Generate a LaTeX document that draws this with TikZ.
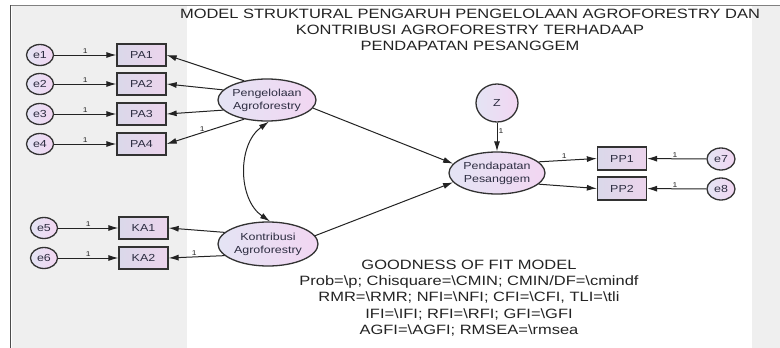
\documentclass[tikz,border=0pt]{standalone}
\usepackage{fontspec}
\setmainfont{Liberation Sans}[FakeStretch=1.22]
\usetikzlibrary{shapes.geometric,arrows.meta}
\definecolor{bgG}{RGB}{239,239,239}
\definecolor{bord}{RGB}{50,50,50}
\definecolor{lineC}{RGB}{35,35,35}
\definecolor{ellL}{RGB}{228,228,244}
\definecolor{ellR}{RGB}{242,214,242}
\definecolor{boxL}{RGB}{218,216,234}
\definecolor{boxR}{RGB}{236,212,236}
\definecolor{txt}{RGB}{45,45,65}
\definecolor{ttl}{RGB}{35,35,35}
\newcommand\nodefont{\fontsize{10.2}{13}\selectfont}
\newcommand\labfont{\fontsize{7}{8}\selectfont}
\newcommand\bigfont{\fontsize{13.5}{15.9}\selectfont}
\begin{document}
\begin{tikzpicture}[x=1pt,y=-1pt,
  lat/.style={ellipse, draw=bord, line width=1.3pt, left color=ellL, right color=ellR,
    minimum width=98pt, minimum height=42pt, inner sep=0pt, align=center, font=\nodefont, text=txt},
  obs/.style={rectangle, draw=bord, line width=1.3pt, left color=boxL, right color=boxR,
    minimum width=49pt, minimum height=22pt, inner sep=0pt, font=\nodefont, text=txt},
  err/.style={ellipse, draw=bord, line width=1.3pt, left color=ellL, right color=ellR,
    minimum width=27pt, minimum height=21pt, inner sep=0pt, font=\nodefont, text=txt},
  arr/.style={draw=lineC, line width=1pt, -{Latex[length=10pt,width=6pt]}},
  dbl/.style={draw=lineC, line width=1pt, {Latex[length=10pt,width=6pt]}-{Latex[length=10pt,width=6pt]}},
  lab/.style={font=\labfont, inner sep=1pt, text=lineC},
  bigtxt/.style={font=\bigfont, align=center, text=ttl, inner sep=0pt}
]
\useasboundingbox (0,0) rectangle (780,348);
\fill[white] (0,0) rectangle (780,348);
\fill[bgG] (12,6) rectangle (187,348);
\fill[bgG] (752,6) rectangle (780,348);
\draw[gray, line width=0.8pt] (10,5) -- (780,5);
\draw[gray!60!black, line width=1.6pt] (10.5,5) -- (10.5,348);

% title
\node[bigtxt] (title) at (470,30) {MODEL STRUKTURAL PENGARUH PENGELOLAAN AGROFORESTRY DAN\\KONTRIBUSI AGROFORESTRY TERHADAAP\\PENDAPATAN PESANGGEM};

% error terms
\node[err] (e1) at (40,55) {e1};
\node[err] (e2) at (40,84) {e2};
\node[err] (e3) at (40,114) {e3};
\node[err] (e4) at (40,144) {e4};
\node[err] (e5) at (44,228) {e5};
\node[err] (e6) at (44,258) {e6};
\node[err, minimum width=28pt, minimum height=22pt] (e7) at (721,159) {e7};
\node[err, minimum width=28pt, minimum height=22pt] (e8) at (721,189) {e8};

% observed
\node[obs] (pa1) at (141.5,55) {PA1};
\node[obs] (pa2) at (141.5,84) {PA2};
\node[obs] (pa3) at (141.5,114) {PA3};
\node[obs] (pa4) at (141.5,144) {PA4};
\node[obs] (ka1) at (143.5,228) {KA1};
\node[obs] (ka2) at (143.5,258) {KA2};
\node[obs, minimum height=23pt] (pp1) at (622,158.5) {PP1};
\node[obs, minimum height=23pt] (pp2) at (622,188.5) {PP2};

% latent
\node[lat] (peng) at (267,100) {Pengelolaan\\Agroforestry};
\node[lat, minimum width=100pt, minimum height=44pt] (kon) at (268,244) {Kontribusi\\Agroforestry};
\node[lat, minimum width=96pt] (pend) at (497,173) {Pendapatan\\Pesanggem};
\node[err, minimum width=42pt, minimum height=38pt] (z) at (497,103) {Z};

% error arrows
\draw[arr] (e1) -- node[lab,above]{1} (pa1);
\draw[arr] (e2) -- node[lab,above]{1} (pa2);
\draw[arr] (e3) -- node[lab,above]{1} (pa3);
\draw[arr] (e4) -- node[lab,above]{1} (pa4);
\draw[arr] (e5) -- node[lab,above]{1} (ka1);
\draw[arr] (e6) -- node[lab,above]{1} (ka2);
\draw[arr] (e7) -- node[lab,above,pos=0.53]{1} (pp1);
\draw[arr] (e8) -- node[lab,above,pos=0.53]{1} (pp2);

% loadings
\draw[arr] (peng.140) -- (pa1.east);
\draw[arr] (peng.167) -- (pa2.east);
\draw[arr] (peng.193) -- (pa3.east);
\draw[arr] (peng.220) -- node[lab,above,pos=0.54]{1} (pa4.east);
\draw[arr] (kon.165) -- (ka1.east);
\draw[arr] (kon.195) -- node[lab,above,pos=0.54]{1} (ka2.east);
\draw[arr] (pend.15) -- node[lab,above,pos=0.44]{1} (pp1.west);
\draw[arr] (pend.-15) -- (pp2.west);

% structural
\draw[arr] (peng.-10) -- (pend.168);
\draw[arr] (kon.10) -- (pend.192);
\draw[arr] (z) -- node[lab,right,pos=0.3]{1} (pend);
\draw[dbl] (peng.-85) to[bend right=55] (kon.85);

% goodness of fit
\node[bigtxt, font=\fontsize{13.5}{16.2}\selectfont] (gof) at (469,298) {GOODNESS OF FIT MODEL\\
Prob=\textbackslash p; Chisquare=\textbackslash CMIN; CMIN/DF=\textbackslash cmindf\\
RMR=\textbackslash RMR; NFI=\textbackslash NFI; CFI=\textbackslash CFI, TLI=\textbackslash tli\\
IFI=\textbackslash IFI; RFI=\textbackslash RFI; GFI=\textbackslash GFI\\
AGFI=\textbackslash AGFI; RMSEA=\textbackslash rmsea};
\end{tikzpicture}
\end{document}
